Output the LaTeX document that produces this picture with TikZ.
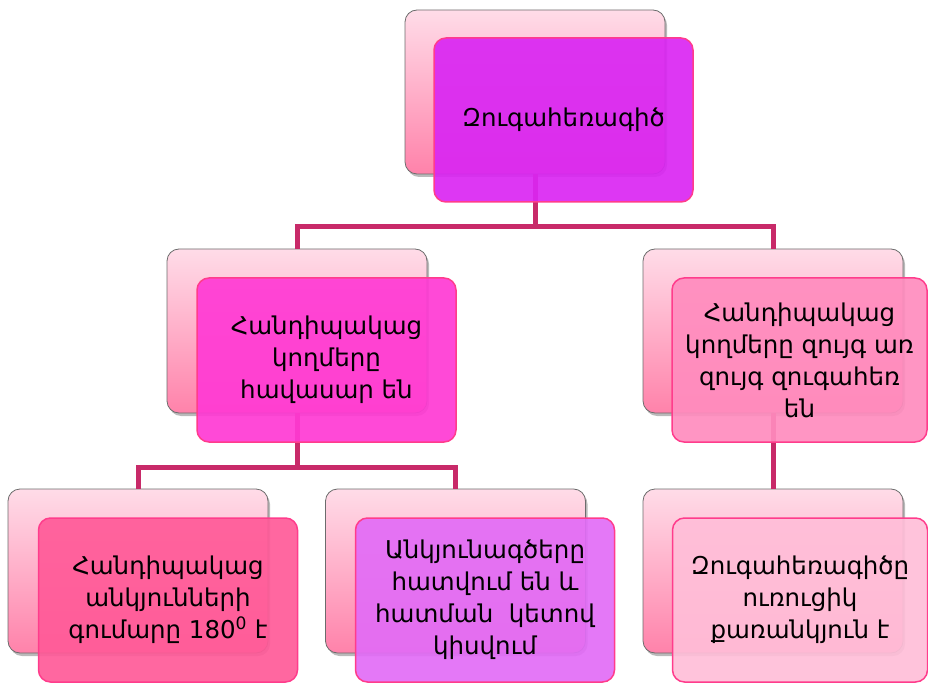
\documentclass[tikz,border=0pt]{standalone}
\usepackage{fontspec}
\setmainfont{DejaVu Sans}
\usetikzlibrary{shadows}
\definecolor{conncol}{RGB}{200,42,105}
\definecolor{backtop}{RGB}{255,220,232}
\definecolor{backbot}{RGB}{255,130,170}
\definecolor{frontborder}{RGB}{255,60,140}
\definecolor{cA}{RGB}{218,38,242}
\definecolor{cB}{RGB}{255,58,212}
\definecolor{cC}{RGB}{255,140,190}
\definecolor{cD}{RGB}{255,90,152}
\definecolor{cE}{RGB}{226,108,246}
\definecolor{cF}{RGB}{255,190,216}
\tikzset{
  conn/.style={draw=conncol, line width=5pt},
  backbox/.style={draw=gray!85!black, line width=0.8pt, rounded corners=12pt,
    top color=backtop, bottom color=backbot, minimum width=260pt, minimum height=164pt,
    inner sep=0pt, drop shadow={shadow xshift=2pt, shadow yshift=-3pt, opacity=0.45, fill=black!60}},
  frontbox/.style={draw=frontborder, line width=1.5pt, rounded corners=12pt,
    fill opacity=0.92, text opacity=1, minimum width=#1, minimum height=164pt,
    inner sep=0pt, align=center, font=\fontsize{24.5}{32}\selectfont},
  frontbox/.default=259pt
}
\begin{document}
\begin{tikzpicture}[x=1pt,y=-1pt]
\useasboundingbox (0,0) rectangle (928,684);
% back boxes
\node[backbox] (tb) at (535,92) {};
\node[backbox] (lb) at (297,331) {};
\node[backbox] (rb) at (773,331) {};
\node[backbox] (llb) at (138,571) {};
\node[backbox] (mb) at (455.5,571) {};
\node[backbox] (rrb) at (773,571) {};
% connectors
\coordinate (j1) at (535,227);
\coordinate (j2) at (297,467);
\draw[conn] (tb.south) -- (j1) -| (lb.north);
\draw[conn] (j1) -| (rb.north);
\draw[conn] (lb.south) -- (j2) -| (llb.north);
\draw[conn] (j2) -| (mb.north);
\draw[conn] (rb.south) -- (rrb.north);
% front boxes
\node[frontbox, fill=cA] (t) at (563.5,120) {Զուգահեռագիծ};
\node[frontbox, fill=cB] (l) at (326.5,360) {Հանդիպակաց\\կողմերը\\հավասար են};
\node[frontbox, fill=cC, minimum width=255pt] (r) at (799.5,360) {Հանդիպակաց\\կողմերը զույգ առ\\զույգ զուգահեռ\\են};
\node[frontbox, fill=cD] (ll) at (168,600) {Հանդիպակաց\\անկյունների\\գումարը 180\textsuperscript{0} է};
\node[frontbox, fill=cE] (m) at (485,600) {Անկյունագծերը\\հատվում են և\\հատման\ \ կետով\\կիսվում};
\node[frontbox, fill=cF, minimum width=255pt] (rr) at (800,600) {Զուգահեռագիծը\\ուռուցիկ\\քառանկյուն է};
\end{tikzpicture}
\end{document}
